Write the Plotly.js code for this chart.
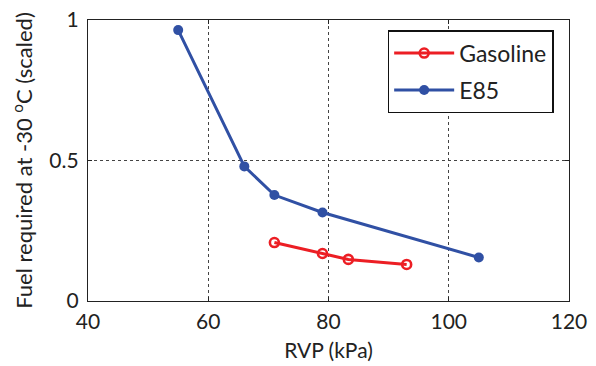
<!DOCTYPE html>
<html>
<head>
<meta charset="utf-8">
<script src="https://cdn.plot.ly/plotly-3.0.1.min.js"></script>
<style>
  html, body { margin: 0; padding: 0; background: #fff; }
  #chart { width: 596px; height: 366px; }
</style>
</head>
<body>
<div id="chart"></div>
<script>
// Reid vapour pressure (kPa) and scaled fuel needed for a -30 °C cold start
const gasolineRvp = [71, 79, 83.3, 93];
const gasolineFuel = [0.208, 0.169, 0.148, 0.130];

const e85Rvp = [55, 66, 71, 79, 105];
const e85Fuel = [0.964, 0.479, 0.377, 0.315, 0.155];

const xTicks = [40, 60, 80, 100, 120];
const yTicks = [0, 0.5, 1];
const yTickLabels = ['0', '0.5', '1'];

const RED = 'rgb(236,30,36)';
const BLUE = 'rgb(48,80,164)';
const FONT = 'Lato, "Open Sans", sans-serif';

const traces = [
  {
    name: 'Gasoline',
    x: gasolineRvp,
    y: gasolineFuel,
    mode: 'lines+markers',
    line: { color: RED, width: 3 },
    marker: { symbol: 'circle-open', size: 9, color: RED, line: { width: 2.6, color: RED } },
    legendgroup: 'g'
  },
  {
    name: 'E85',
    x: e85Rvp,
    y: e85Fuel,
    mode: 'lines+markers',
    line: { color: BLUE, width: 3 },
    marker: { symbol: 'circle', size: 10, color: BLUE },
    legendgroup: 'e'
  }
];

const axisCommon = {
  showline: true,
  linecolor: '#222',
  linewidth: 1.2,
  mirror: 'ticks',
  ticks: 'inside',
  ticklen: 4,
  tickcolor: '#222',
  showgrid: true,
  gridcolor: '#444',
  griddash: 'dot',
  gridwidth: 1,
  zeroline: false,
  tickfont: { family: FONT, size: 21, color: '#222' }
};

const layout = {
  width: 596,
  height: 366,
  margin: { l: 88, r: 27, t: 20, b: 65 },
  paper_bgcolor: '#fff',
  plot_bgcolor: '#fff',
  font: { family: FONT, color: '#222' },
  showlegend: true,
  legend: {
    x: 0.623,
    y: 0.964,
    xanchor: 'left',
    yanchor: 'top',
    bgcolor: '#fff',
    bordercolor: '#111',
    borderwidth: 1.5,
    font: { family: FONT, size: 23, color: '#222' },
    traceorder: 'grouped',
    tracegroupgap: 4,
    itemwidth: 60
  },
  xaxis: Object.assign({}, axisCommon, {
    range: [40, 120],
    tickvals: xTicks,
    ticktext: xTicks.map(String),
    ticklabelstandoff: 2,
    title: { text: 'RVP (kPa)', font: { family: FONT, size: 21, color: '#222' }, standoff: 10 }
  }),
  yaxis: Object.assign({}, axisCommon, {
    range: [0, 1],
    tickvals: yTicks,
    ticktext: yTickLabels,
    ticklabelstandoff: 4,
    title: { text: 'Fuel required at -30 <sup>o</sup>C (scaled)', font: { family: FONT, size: 22, color: '#222' }, standoff: 10 }
  })
};

Plotly.newPlot('chart', traces, layout, { displayModeBar: false, staticPlot: true });
</script>
</body>
</html>
